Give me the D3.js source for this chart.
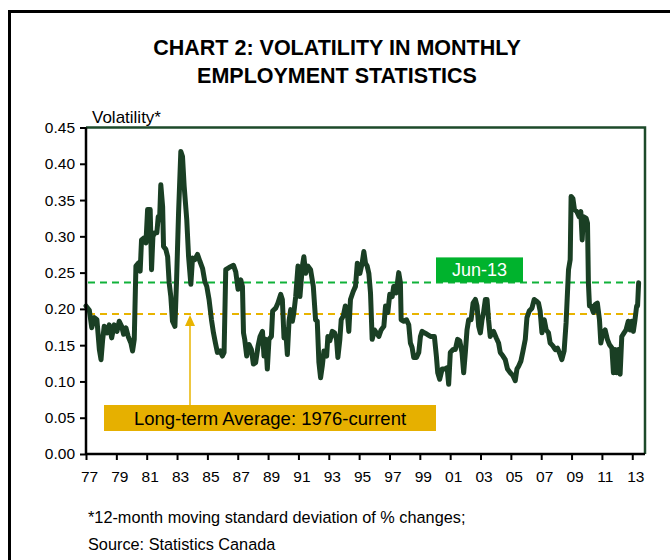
<!DOCTYPE html>
<html>
<head>
<meta charset="utf-8">
<script src="https://cdn.jsdelivr.net/npm/d3@7"></script>
<style>
  body { margin: 0; background: #fff; }
  svg { font-family: "Liberation Sans", Arial, sans-serif; }
</style>
</head>
<body>
<svg id="canvas" width="670" height="560"></svg>
<script>
// volatility series (decimal year, value)
const years = [
  1977.00, 1977.22, 1977.38, 1977.55, 1977.72, 1977.88, 1977.99, 1978.10, 1978.20, 1978.38,
  1978.53, 1978.69, 1978.86, 1979.04, 1979.19, 1979.35, 1979.48, 1979.63, 1979.78, 1979.96,
  1980.07, 1980.18, 1980.29, 1980.44, 1980.57, 1980.66, 1980.84, 1980.95, 1981.06, 1981.23,
  1981.32, 1981.41, 1981.54, 1981.67, 1981.76, 1981.85, 1981.93, 1982.05, 1982.11, 1982.26,
  1982.38, 1982.48, 1982.59, 1982.70, 1982.86, 1982.97, 1983.10, 1983.25, 1983.36, 1983.47,
  1983.64, 1983.76, 1983.91, 1984.02, 1984.17, 1984.35, 1984.50, 1984.68, 1984.83, 1984.96,
  1985.11, 1985.27, 1985.40, 1985.53, 1985.66, 1985.84, 1985.99, 1986.10, 1986.21, 1986.43,
  1986.72, 1986.87, 1987.02, 1987.20, 1987.31, 1987.38, 1987.46, 1987.59, 1987.74, 1987.90,
  1988.03, 1988.18, 1988.34, 1988.47, 1988.63, 1988.73, 1988.84, 1988.95, 1989.06, 1989.22,
  1989.30, 1989.50, 1989.65, 1989.83, 1989.94, 1990.05, 1990.16, 1990.27, 1990.38, 1990.49,
  1990.60, 1990.70, 1990.82, 1990.97, 1991.10, 1991.26, 1991.36, 1991.47, 1991.63, 1991.80,
  1991.98, 1992.13, 1992.24, 1992.35, 1992.46, 1992.57, 1992.68, 1992.86, 1992.94, 1993.07,
  1993.23, 1993.38, 1993.51, 1993.60, 1993.73, 1993.82, 1993.95, 1994.09, 1994.22, 1994.32,
  1994.43, 1994.61, 1994.76, 1994.88, 1995.05, 1995.20, 1995.31, 1995.42, 1995.53, 1995.64,
  1995.75, 1995.86, 1996.01, 1996.14, 1996.30, 1996.45, 1996.63, 1996.74, 1996.89, 1997.02,
  1997.18, 1997.28, 1997.44, 1997.61, 1997.72, 1997.77, 1997.94, 1998.12, 1998.27, 1998.38,
  1998.49, 1998.60, 1998.78, 1998.93, 1999.04, 1999.15, 1999.30, 1999.48, 1999.70, 1999.96,
  2000.09, 2000.18, 2000.31, 2000.47, 2000.62, 2000.80, 2000.90, 2001.01, 2001.19, 2001.34,
  2001.49, 2001.63, 2001.78, 2001.89, 2002.00, 2002.11, 2002.22, 2002.38, 2002.51, 2002.66,
  2002.77, 2002.88, 2002.99, 2003.10, 2003.20, 2003.32, 2003.43, 2003.53, 2003.64, 2003.76,
  2003.86, 2004.04, 2004.19, 2004.30, 2004.48, 2004.63, 2004.78, 2004.96, 2005.14, 2005.29,
  2005.40, 2005.51, 2005.66, 2005.80, 2005.95, 2006.06, 2006.21, 2006.39, 2006.54, 2006.67,
  2006.82, 2006.93, 2007.05, 2007.20, 2007.33, 2007.48, 2007.59, 2007.77, 2007.92, 2008.07,
  2008.25, 2008.36, 2008.51, 2008.64, 2008.80, 2008.91, 2008.97, 2009.09, 2009.19, 2009.35,
  2009.50, 2009.61, 2009.70, 2009.78, 2009.96, 2010.05, 2010.11, 2010.18, 2010.29, 2010.44,
  2010.55, 2010.70, 2010.84, 2010.93, 2011.06, 2011.21, 2011.36, 2011.49, 2011.66, 2011.76,
  2011.87, 2011.98, 2012.09, 2012.20, 2012.31, 2012.46, 2012.59, 2012.74, 2012.86, 2012.97,
  2013.07, 2013.18, 2013.29, 2013.35, 2013.42
]
const volatility = [
  .204, .198, .174, .188, .185, .144, .130, .158, .176, .167,
  .178, .160, .178, .169, .183, .176, .165, .174, .162, .153,
  .142, .158, .259, .263, .252, .295, .298, .291, .337, .337,
  .254, .300, .305, .305, .327, .323, .371, .341, .286, .282,
  .272, .236, .217, .183, .176, .240, .332, .417, .410, .369,
  .323, .272, .234, .270, .268, .275, .266, .256, .238, .231,
  .213, .185, .167, .153, .140, .142, .135, .140, .254, .257,
  .260, .251, .227, .240, .231, .167, .158, .135, .151, .144,
  .124, .126, .149, .162, .169, .135, .158, .117, .158, .162,
  .197, .201, .208, .220, .213, .160, .171, .137, .183, .199,
  .183, .195, .217, .259, .217, .259, .272, .249, .259, .254,
  .231, .185, .183, .126, .105, .121, .142, .135, .162, .156,
  .169, .167, .158, .133, .158, .185, .190, .204, .195, .169,
  .213, .224, .231, .263, .249, .263, .279, .263, .259, .249,
  .222, .158, .171, .167, .162, .171, .176, .204, .195, .220,
  .217, .231, .222, .250, .236, .185, .183, .185, .178, .153,
  .147, .133, .133, .140, .162, .169, .167, .165, .162, .162,
  .135, .112, .103, .117, .117, .119, .096, .140, .144, .144,
  .158, .156, .140, .112, .140, .171, .185, .185, .208, .213,
  .204, .176, .167, .185, .195, .213, .213, .185, .162, .167,
  .169, .160, .153, .140, .135, .130, .117, .112, .108, .101,
  .117, .121, .128, .142, .158, .188, .197, .201, .213, .211,
  .208, .197, .167, .185, .171, .167, .153, .149, .144, .146,
  .137, .130, .142, .181, .254, .268, .355, .352, .337, .334,
  .327, .334, .295, .327, .325, .318, .236, .204, .204, .195,
  .206, .208, .185, .153, .167, .171, .158, .151, .146, .112,
  .144, .112, .144, .110, .162, .167, .171, .183, .171, .183,
  .169, .185, .204, .204, .236
]

const yTicks = [0, 0.05, 0.10, 0.15, 0.20, 0.25, 0.30, 0.35, 0.40, 0.45]
const xTicks = [1977, 1979, 1981, 1983, 1985, 1987, 1989, 1991, 1993, 1995,
                1997, 1999, 2001, 2003, 2005, 2007, 2009, 2011, 2013]

const longTermAvg = 0.193
const latest = 0.2365
const latestLabel = 'Jun-13'
const avgLabel = 'Long-term Average: 1976-current'

const plotLeft = 86, plotRight = 645, plotTop = 127.5, plotBottom = 454

const svg = d3.select('#canvas')

// outer frame, runs off the right and bottom edges
svg.append('rect')
    .attr('x', 9.5).attr('y', 11.5)
    .attr('width', 700).attr('height', 600)
    .attr('fill', 'none').attr('stroke', '#000').attr('stroke-width', 3)

svg.append('text')
    .attr('x', 337).attr('y', 55)
    .attr('text-anchor', 'middle')
    .attr('font-size', 21.5).attr('font-weight', 'bold')
    .text('CHART 2: VOLATILITY IN MONTHLY')
svg.append('text')
    .attr('x', 337).attr('y', 83)
    .attr('text-anchor', 'middle')
    .attr('font-size', 21.5).attr('font-weight', 'bold')
    .text('EMPLOYMENT STATISTICS')

svg.append('text')
    .attr('x', 92).attr('y', 123)
    .attr('font-size', 17)
    .text('Volatility*')

const x = d3.scaleLinear().domain([1977, 2013.84]).range([plotLeft, plotRight])
const y = d3.scaleLinear().domain([0, 0.45]).range([plotBottom, plotTop])

// top and right plot border
svg.append('path')
    .attr('d', `M${plotLeft},${plotTop}H${plotRight}V${plotBottom}`)
    .attr('fill', 'none').attr('stroke', '#1d4a2a').attr('stroke-width', 2.5)

// reference lines
svg.append('line')
    .attr('x1', plotLeft + 2).attr('x2', x(2013.42))
    .attr('y1', y(latest)).attr('y2', y(latest))
    .attr('stroke', '#11b23a').attr('stroke-width', 2)
    .attr('stroke-dasharray', '7,5')
svg.append('line')
    .attr('x1', plotLeft + 2).attr('x2', x(2013.42))
    .attr('y1', y(longTermAvg)).attr('y2', y(longTermAvg))
    .attr('stroke', '#e8b400').attr('stroke-width', 2)
    .attr('stroke-dasharray', '7,5')

let line = d3.line()
    .x((d, i) => x(years[i]))
    .y(d => y(d))

svg.append('path')
    .datum(volatility)
    .attr('d', line)
    .attr('fill', 'none')
    .attr('stroke', '#1a3f24')
    .attr('stroke-width', 5)
    .attr('stroke-linejoin', 'round')
    .attr('stroke-linecap', 'round')

// axes
const yAxis = svg.append('g')
    .attr('transform', `translate(${plotLeft},0)`)
    .call(d3.axisLeft(y).tickValues(yTicks).tickFormat(d3.format('.2f')).tickSize(6).tickPadding(5))
const xAxis = svg.append('g')
    .attr('transform', `translate(0,${plotBottom})`)
    .call(d3.axisBottom(x).tickValues(xTicks).tickFormat(d => String(d).slice(2)).tickSize(6).tickPadding(11))

for (const g of [yAxis, xAxis]) {
    g.select('.domain').attr('stroke', '#000').attr('stroke-width', 2.5)
    g.selectAll('.tick line').attr('stroke', '#000').attr('stroke-width', 2)
    g.selectAll('.tick text')
        .attr('font-family', '"Liberation Sans", Arial, sans-serif')
        .attr('font-size', 15.5).attr('fill', '#000')
}
xAxis.selectAll('.tick text').attr('dx', 3)
yAxis.select('.domain').attr('d', `M0,${plotTop}V${plotBottom}`)
xAxis.select('.domain').attr('d', `M${plotLeft},0H${plotRight}`)

// Jun-13 label
svg.append('rect')
    .attr('x', 436).attr('y', y(latest) - 25)
    .attr('width', 87).attr('height', 25)
    .attr('fill', '#00b32d')
svg.append('text')
    .attr('x', 479.5).attr('y', y(latest) - 6)
    .attr('text-anchor', 'middle')
    .attr('font-size', 18).attr('fill', '#fff')
    .text(latestLabel)

// long-term average label and arrow
const boxTop = 405
svg.append('line')
    .attr('x1', 190).attr('x2', 190)
    .attr('y1', boxTop).attr('y2', y(longTermAvg) + 8)
    .attr('stroke', '#e8b400').attr('stroke-width', 1.5)
svg.append('path')
    .attr('d', `M190,${y(longTermAvg) + 1}l-5,11h10z`)
    .attr('fill', '#e8b400')
svg.append('rect')
    .attr('x', 104).attr('y', boxTop)
    .attr('width', 332).attr('height', 26)
    .attr('fill', '#e6b000')
svg.append('text')
    .attr('x', 270).attr('y', boxTop + 19.5)
    .attr('text-anchor', 'middle')
    .attr('font-size', 18.5).attr('fill', '#000')
    .text(avgLabel)

// footnote
svg.append('text')
    .attr('x', 88).attr('y', 523)
    .attr('font-size', 16.3)
    .text('*12-month moving standard deviation of % changes;')
svg.append('text')
    .attr('x', 88).attr('y', 550)
    .attr('font-size', 16.3)
    .text('Source: Statistics Canada')
</script>
</body>
</html>
